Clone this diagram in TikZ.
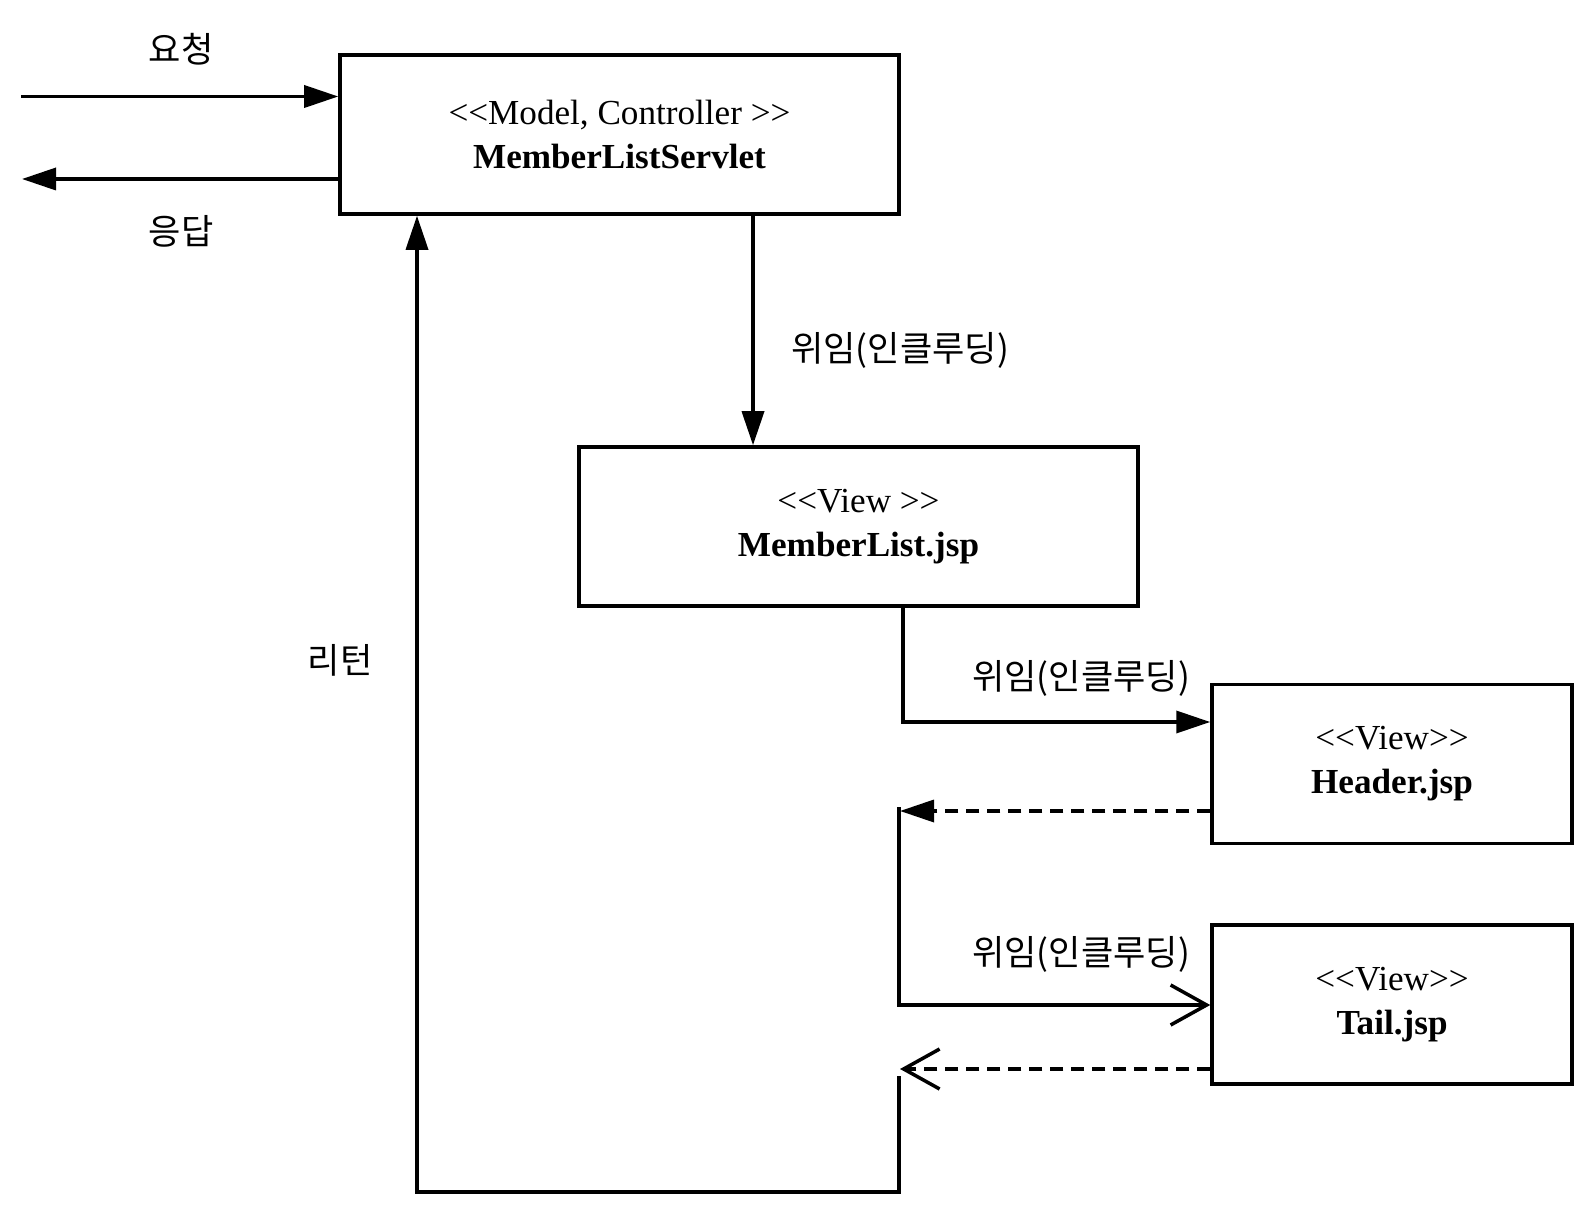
\documentclass[tikz,border=0pt]{standalone}
\usepackage{fontspec}
\setmainfont{Liberation Serif}
\newfontfamily\kr{Noto Sans CJK KR}
\usetikzlibrary{arrows.meta}
\usetikzlibrary{positioning}
\tikzstyle{comp} = [rectangle, draw=black, line width=2pt, minimum width=11.18cm, minimum height=3.18cm, align=center, font=\fontsize{20}{25}\selectfont]
\tikzstyle{view} = [comp, minimum width=7.2cm]
\tikzstyle{lbl} = [font=\kr\fontsize{20}{23}\selectfont]
\tikzstyle{call} = [-{Triangle[length=0.68cm, width=0.44cm]}, line width=2pt]
\tikzstyle{back} = [-{Straight Barb[length=0.72cm, width=0.8cm]}, line width=2pt]

\begin{document}
\begin{tikzpicture}

  \useasboundingbox (0,0) rectangle (31.84,24.32);

  % boxes
  \node[comp] (srv) at (12.39,21.63) {{<}{<}Model, Controller {>}{>}\\\textbf{MemberListServlet}};
  \node[comp] (mlist) at (17.17,13.79) {{<}{<}View {>}{>}\\\textbf{MemberList.jsp}};
  \node[view] (header) at (27.84,9.04) {{<}{<}View{>}{>}\\\textbf{Header.jsp}};
  \node[view] (tail) at (27.84,4.23) {{<}{<}View{>}{>}\\\textbf{Tail.jsp}};

  % request / response
  \coordinate (req) at (0.42,22.39);
  \coordinate (res) at (0.44,20.74);
  \draw[call] (req) -- (req -| srv.west);
  \draw[call] (res -| srv.west) -- (res);
  \node[lbl] (reqlbl) at (3.62,23.34) {요청};
  \node[lbl] (reslbl) at (3.62,19.70) {응답};

  % servlet -> MemberList.jsp
  \coordinate (fwd) at (15.06,0);
  \draw[call] (srv.south -| fwd) -- (mlist.north -| fwd);
  \node[lbl] (fwdlbl) at (18.0,17.32) {위임(인클루딩)};

  % MemberList.jsp -> Header.jsp
  \coordinate (inc1) at (18.06,9.88);
  \draw[call] (mlist.south -| inc1) -- (inc1) -- (inc1 -| header.west);
  \node[lbl] (inc1lbl) at (21.62,10.76) {위임(인클루딩)};

  % Header.jsp back, then -> Tail.jsp
  \coordinate (ret1) at (18.0,8.10);
  \coordinate (top2) at (17.98,8.18);
  \coordinate (inc2) at (17.98,4.22);
  \draw[call, dash pattern=on 0.26cm off 0.16cm] (ret1 -| header.west) -- (ret1);
  \draw[back] (top2) -- (inc2) -- (inc2 -| tail.west);
  \node[lbl] (inc2lbl) at (21.62,5.24) {위임(인클루딩)};

  % Tail.jsp back, then return to servlet
  \coordinate (ret2) at (18.0,2.94);
  \coordinate (bot) at (17.98,2.80);
  \coordinate (corner) at (8.34,0.48);
  \draw[back, dash pattern=on 0.26cm off 0.16cm] (ret2 -| tail.west) -- (ret2);
  \draw[call] (bot) -- (bot |- corner) -- (corner) -- (corner |- srv.south);
  \node[lbl] (retlbl) at (6.8,11.12) {리턴};

\end{tikzpicture}
\end{document}
